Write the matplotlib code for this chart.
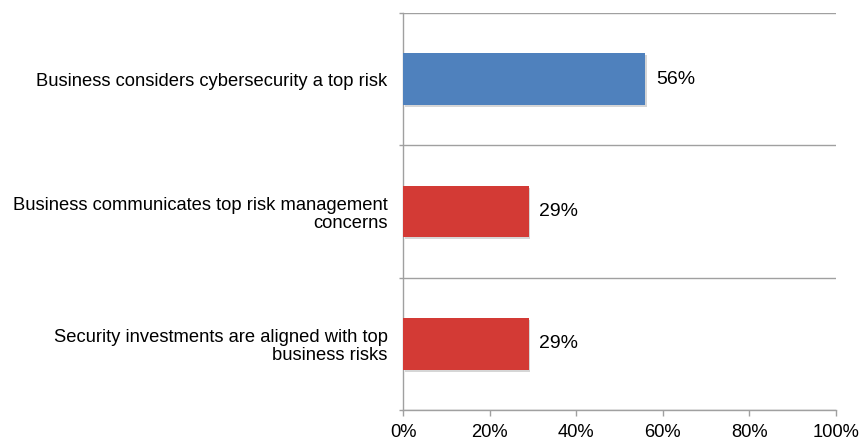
import numpy as np
import matplotlib.pyplot as plt
from matplotlib import patheffects as pe

categories = ['Business considers cybersecurity a top risk',
              'Business communicates top risk management\nconcerns',
              'Security investments are aligned with top\nbusiness risks']
values = [56, 29, 29]
colors = ['#4F81BD', '#D33A35', '#D33A35']
xticks = [0, 20, 40, 60, 80, 100]

plt.rcParams['font.family'] = ['Liberation Sans', 'DejaVu Sans']

fig = plt.figure(figsize=(8.63, 4.41), dpi=100)
ax = fig.add_axes([0.467, 0.0703, 0.5017, 0.9002])

pos = np.arange(len(categories)) + 0.5
bars = ax.barh(pos, values, height=0.39, color=colors, zorder=3)
for b in bars:
    b.set_path_effects([pe.SimplePatchShadow(offset=(1.2, -1.5), shadow_rgbFace='#bbbbbb', alpha=0.6),
                        pe.Normal()])

for p, v in zip(pos, values):
    ax.text(v + 2.4, p, f'{v}%', va='center', ha='left', fontsize=14)

ax.set_xlim(0, 100)
ax.set_ylim(3, 0)
ax.set_xticks(xticks)
ax.set_xticklabels([f'{t}%' for t in xticks], fontsize=13.2)
ax.set_yticks(pos)
ax.set_yticklabels(categories, fontsize=13.2, ha='right', linespacing=1.12)
ax.set_yticks([0, 1, 2, 3], minor=True)
ax.tick_params(axis='y', which='major', length=0, pad=11)
ax.tick_params(axis='y', which='minor', length=3, color='#A0A0A0', width=1)
ax.tick_params(axis='x', length=4, color='#A0A0A0', width=1, pad=6)
ax.grid(axis='y', which='minor', color='#A0A0A0', linewidth=1, zorder=1)

for s in ['top', 'right']:
    ax.spines[s].set_visible(False)
for s in ['left', 'bottom']:
    ax.spines[s].set_color('#A0A0A0')
    ax.spines[s].set_linewidth(1)

fig.savefig('out.png', dpi=100)
